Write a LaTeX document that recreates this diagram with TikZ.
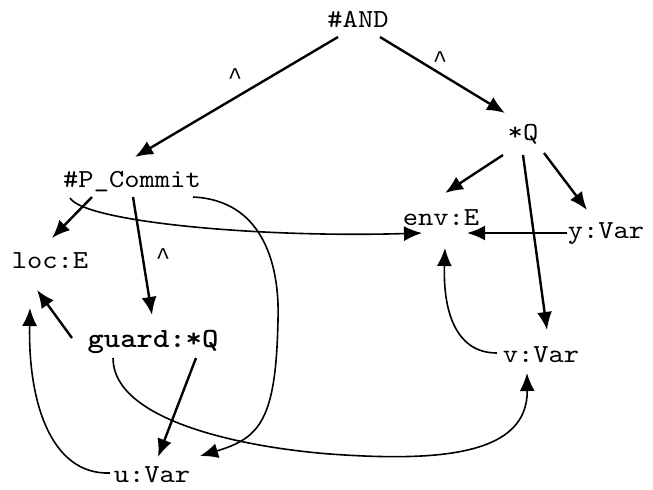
\documentclass[tikz,border=0pt]{standalone}
\usepackage{fontspec}
\newfontfamily\cmono{lmmono10-regular.otf}[FakeStretch=1.12]
\newfontfamily\cmonobold{lmmonolt10-bold.otf}[FakeStretch=1.12]
\newfontfamily\hatmono{Liberation Mono}
\usetikzlibrary{arrows.meta,calc}
\tikzset{
	lbl/.style={font=\cmono\fontsize{13}{15}\selectfont, inner sep=0pt, text height=7.6pt, text depth=2.6pt},
	boldlbl/.style={font=\cmonobold\fontsize{13.9}{16}\selectfont, inner sep=0pt, text height=8.2pt, text depth=2.7pt},
	hat/.style={font=\hatmono\fontsize{12}{14}\selectfont, inner sep=0pt, anchor=base},
	arr/.style={-{Latex[length=9pt,width=7.5pt]}, line width=1.2pt},
	curv/.style={-{Latex[length=9pt,width=7.5pt]}, line width=0.8pt}
}

\begin{document}
\begin{tikzpicture}[x=0.5pt,y=-0.5pt]
			%%%%% START %%%%%
			\useasboundingbox (0,0) rectangle (653,489);
			
			\node[lbl] (and) at (358,22) {\#AND};
			\node[lbl] (q) at (523,135) {*Q};
			\node[lbl] (pc) at (132,182) {\#P\_Commit};
			\node[lbl] (env) at (441,220) {env:E};
			\node[lbl] (yvar) at (606,233) {y:Var};
			\node[lbl] (loc) at (50,263) {loc:E};
			\node[boldlbl] (guard) at (153,342) {guard:*Q};
			\node[lbl] (vvar) at (541,357) {v:Var};
			\node[lbl, text depth=0pt] (uvar) at (152,475) {u:Var};
			
			\node[hat] (hat1) at (235,84) {\textasciicircum};
			\node[hat] (hat2) at (440,67) {\textasciicircum};
			\node[hat] (hat3) at (163,264) {\textasciicircum};
			
			% straight arrows
			\draw[arr] ($(and)+(-20,15)$) -- ($(pc)+(3,-25)$);
			\draw[arr] ($(and)+(22,15)$) -- ($(q)+(-18,-22)$);
			\draw[arr] ($(q)+(-20,20)$) -- ($(env)+(4,-27)$);
			\draw[arr] ($(q)+(0,20)$) -- ($(vvar)+(6,-27)$);
			\draw[arr] ($(q)+(21,18)$) -- ($(yvar)+(-19,-23)$);
			\draw[arr] ($(yvar)+(-39,0)$) -- ($(env)+(26,13)$);
			\draw[arr] ($(pc)+(-40,15)$) -- ($(loc)+(2,-25)$);
			\draw[arr] ($(pc)+(1,15)$) -- ($(guard)+(-1,-27)$);
			\draw[arr] ($(guard)+(-81,-4)$) -- ($(loc)+(-13,27)$);
			\draw[arr] ($(guard)+(43,16)$) -- ($(uvar)+(6,-18)$);
			
			% curved arrows
			\draw[curv] ($(pc)+(-62,16)$) .. controls (85,222) and (260,238) .. ($(env)+(-19,13)$);
			\draw[curv] ($(pc)+(61,15)$) .. controls (260,200) and (280,260) .. (278,320)
				.. controls (276,420) and (260,438) .. ($(uvar)+(48,-19)$);
			\draw[curv] ($(guard)+(-40,16)$) .. controls (113,420) and (240,447) .. (330,454)
				.. controls (440,462) and (528,455) .. ($(vvar)+(-14,16)$);
			\draw[curv] ($(uvar)+(-42,-2)$) .. controls (50,475) and (28,400) .. ($(loc)+(-20,45)$);
			\draw[curv] ($(vvar)+(-44,-4)$) .. controls (455,353) and (443,310) .. ($(env)+(4,28)$);
			%%%%% END %%%%%
\end{tikzpicture}
\end{document}
